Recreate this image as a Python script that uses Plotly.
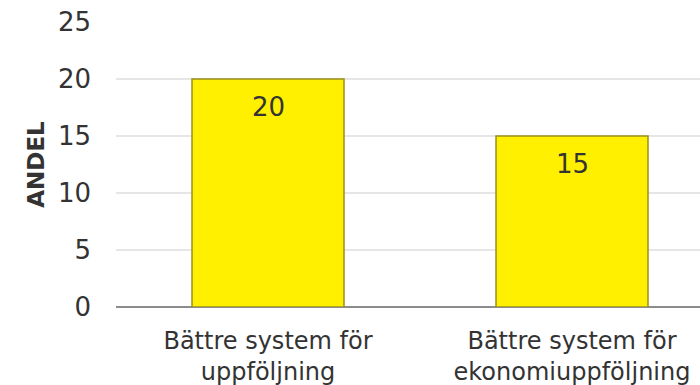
import plotly.graph_objects as go

categories = ["Bättre system för<br>uppföljning", "Bättre system för<br>ekonomiuppföljning"]
values = [20, 15]
y_ticks = [0, 5, 10, 15, 20, 25]

FONT = "DejaVu Sans"
TXT = "#333333"

fig = go.Figure()
fig.add_trace(go.Bar(
    x=list(range(len(categories))),
    y=values,
    width=0.5,
    marker=dict(color="#FFF000", line=dict(color="#9A8F1A", width=1.5)),
    hoverinfo="skip",
))

for i, v in enumerate(values):
    fig.add_annotation(x=i, y=v, text=str(v), showarrow=False, yshift=-28,
                       font=dict(family=FONT, size=26, color=TXT))

fig.update_layout(
    width=700, height=385,
    margin=dict(l=116, r=0, t=22, b=78),
    paper_bgcolor="white", plot_bgcolor="white",
    showlegend=False,
    font=dict(family=FONT, size=24, color=TXT),
)
fig.update_xaxes(
    range=[-0.5, 1.421],
    tickmode="array", tickvals=list(range(len(categories))), ticktext=categories,
    showgrid=False, zeroline=False,
    showline=False,
    ticks="", ticklabelstandoff=17,
    tickfont=dict(family=FONT, size=24, color=TXT),
)
fig.update_yaxes(
    range=[0, 25],
    tickmode="array", tickvals=y_ticks,
    showgrid=True, gridcolor="#E6E6E6", gridwidth=2,
    zeroline=True, zerolinecolor="#8C8C8C", zerolinewidth=2,
    ticks="", ticklabelstandoff=24,
    tickfont=dict(family=FONT, size=26, color=TXT),
    title=dict(text="<b>ANDEL</b>", font=dict(family=FONT, size=23, color=TXT), standoff=6),
)
fig.write_html("out.html")
